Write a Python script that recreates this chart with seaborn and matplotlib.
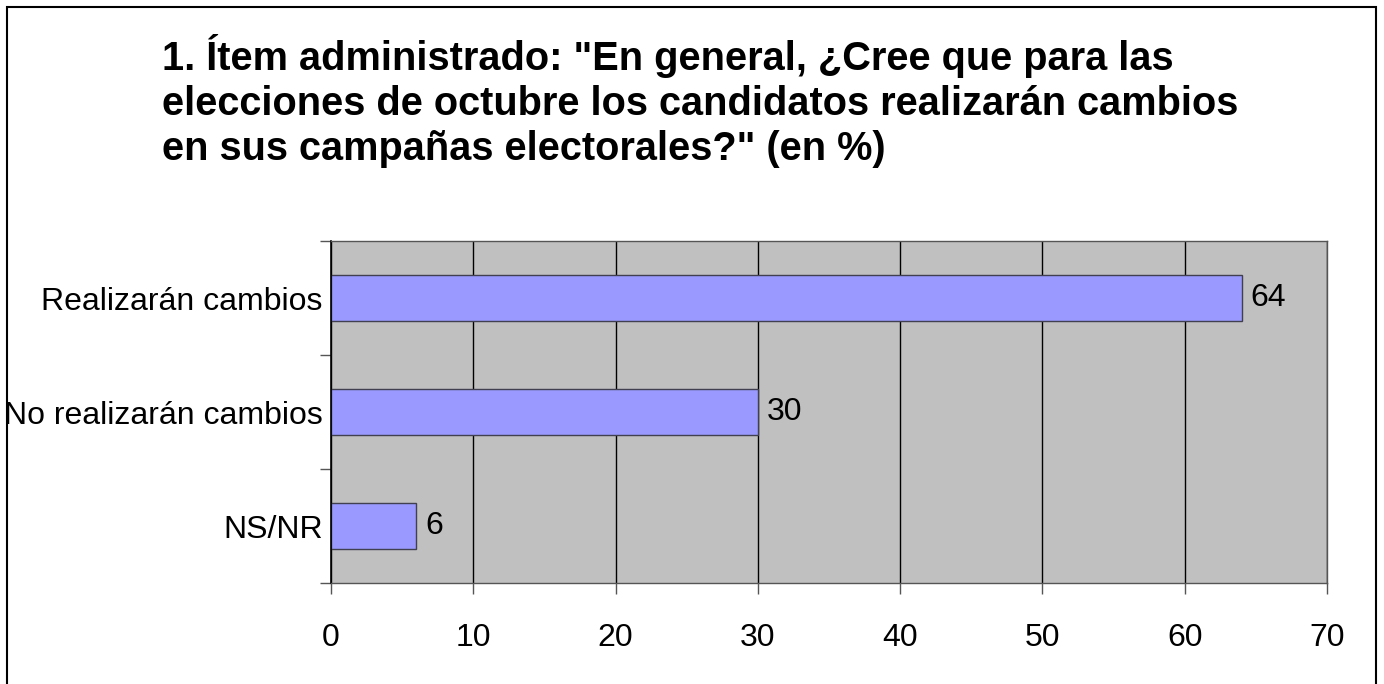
import matplotlib
matplotlib.use('Agg')
import matplotlib.pyplot as plt
import seaborn as sns
import pandas as pd
from matplotlib.patches import Rectangle

# datos del grafico
categorias = ['Realizarán cambios', 'No realizarán cambios', 'NS/NR']
valores = [64, 30, 6]
ticks_x = [0, 10, 20, 30, 40, 50, 60, 70]
titulo = ['1. Ítem administrado: "En general, ¿Cree que para las',
          'elecciones de octubre los candidatos realizarán cambios',
          'en sus campañas electorales?" (en %)']

df = pd.DataFrame({'categoria': categorias, 'valor': valores})

sns.set_style('white')
plt.rcParams['font.family'] = ['Liberation Sans', 'DejaVu Sans']
plt.rcParams['text.color'] = 'black'
plt.rcParams['xtick.color'] = 'black'
plt.rcParams['ytick.color'] = 'black'

fig = plt.figure(figsize=(13.84, 6.84), dpi=100)
ax = fig.add_axes([331 / 1384, 1 - 583 / 684, (1327 - 331) / 1384, (583 - 241) / 684])
ax.set_facecolor('#C0C0C0')

sns.barplot(data=df, x='valor', y='categoria', orient='h', color='#9999FF',
            saturation=1, width=0.405, edgecolor='#404050', linewidth=1, ax=ax)

ax.set_xlim(0, 70)
ax.set_ylim(2.5, -0.5)
ax.set_xticks(ticks_x)
ax.set_xlabel('')
ax.set_ylabel('')
ax.grid(axis='x', color='black', linewidth=1)
ax.set_axisbelow(True)

ax.tick_params(axis='x', labelsize=23, length=8, width=1, color='#555555',
               labelcolor='black', pad=21, bottom=True)
ax.tick_params(axis='y', which='major', labelsize=23, length=0, pad=6, labelcolor='black')
ax.set_yticks([-0.5, 0.5, 1.5, 2.5], minor=True)
ax.tick_params(axis='y', which='minor', length=8, width=1, color='#555555', left=True)

for s in ['top', 'right', 'bottom']:
    ax.spines[s].set_color('#555555')
    ax.spines[s].set_linewidth(1)
ax.spines['left'].set_color('black')
ax.spines['left'].set_linewidth(1.2)

# etiquetas de valor
for i, v in enumerate(valores):
    ax.text(v + 0.6, i, str(v), va='center', ha='left', fontsize=23, color='black')

# titulo en tres lineas (lineas base en 70, 115, 160 px)
for k, linea in enumerate(titulo):
    fig.text(162 / 1384, 1 - (70 + 45 * k) / 684, linea, ha='left', va='baseline',
             fontsize=28.6, fontweight='bold', color='black')

# marco de la figura
fig.patches.append(Rectangle((7 / 1384, -0.05), (1376 - 7) / 1384, 1.05 - 7 / 684,
                             transform=fig.transFigure, fill=False,
                             edgecolor='black', linewidth=1.5))

plt.savefig('out.png', dpi=100)
